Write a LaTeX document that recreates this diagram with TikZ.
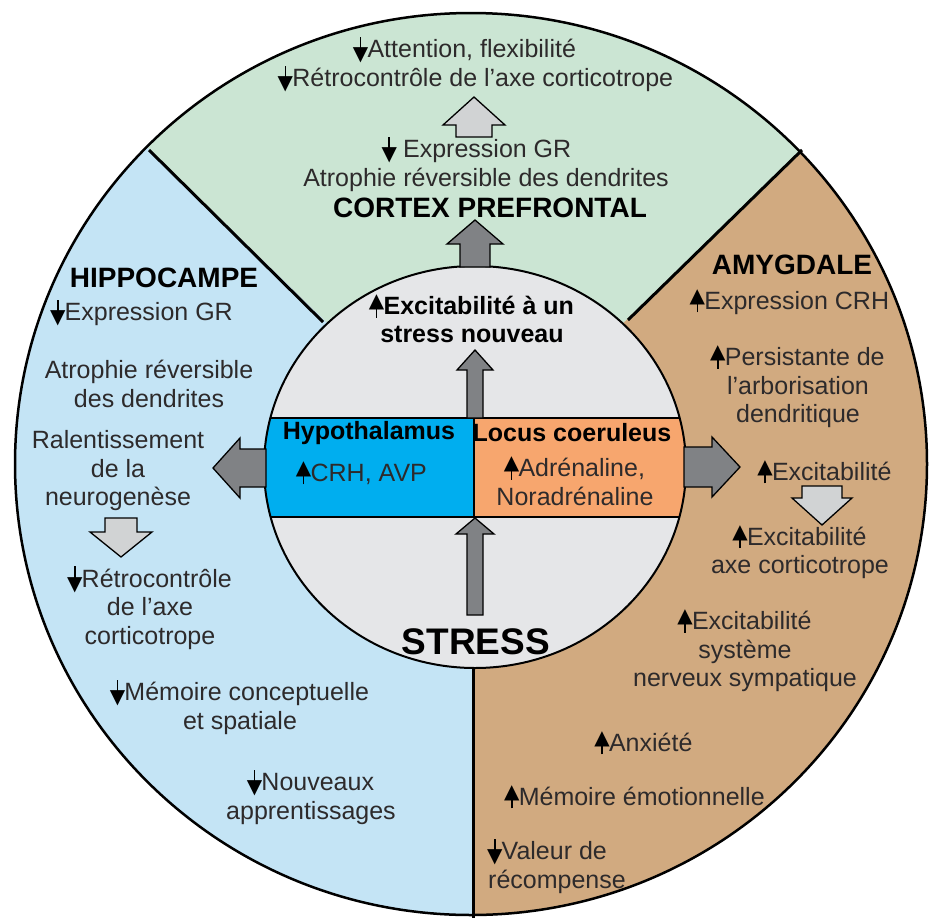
\documentclass[tikz,border=0pt]{standalone}
\usepackage{fontspec}
\setmainfont{Liberation Sans}
\newfontfamily\symfont{DejaVu Sans}
\usepackage{tikz}
\usetikzlibrary{positioning}

\definecolor{vert}{RGB}{203,229,211}
\definecolor{bleuclair}{RGB}{196,228,245}
\definecolor{beige}{RGB}{209,170,128}
\definecolor{gris}{RGB}{229,230,232}
\definecolor{hypobleu}{RGB}{0,174,239}
\definecolor{orangelc}{RGB}{247,166,110}
\definecolor{foncee}{RGB}{128,130,133}
\definecolor{claire}{RGB}{209,211,212}
\definecolor{texte}{RGB}{45,42,43}

\newcommand{\hausse}{{\color{black}\makebox[13pt][c]{\raisebox{-3pt}{\rule{1.7pt}{14pt}}}\hspace{-13pt}\makebox[13pt][c]{\raisebox{7pt}{\symfont\fontsize{20}{20}\selectfont ▲}}}\hspace{0.5pt}}
\newcommand{\baisse}{{\color{black}\makebox[13pt][c]{\raisebox{7pt}{\rule{1.7pt}{14pt}}}\hspace{-13pt}\makebox[13pt][c]{\raisebox{-3pt}{\symfont\fontsize{20}{20}\selectfont ▼}}}\hspace{0.5pt}}
\newcommand{\fleche}[7]{\draw[line width=1.3, fill=#1, shift={#2}, rotate=#3] (0,-#5) -- (#4,-#5) -- (#4,-#7) -- ({#4+#6},0) -- (#4,#7) -- (#4,#5) -- (0,#5) -- cycle;}

\tikzset{
  txt/.style={text=texte, align=center, inner sep=0pt, font=\fontsize{25}{28.5}\selectfont},
  titre/.style={text=black, inner sep=0pt, font=\fontsize{28}{32}\selectfont\bfseries},
  gras/.style={text=black, align=center, inner sep=0pt, font=\fontsize{25}{28}\selectfont\bfseries},
  trait/.style={line width=3}
}

\begin{document}
\begin{tikzpicture}[x=1pt,y=-1pt]
\useasboundingbox (0,0) rectangle (929,919);
\fill[white] (0,0) rectangle (929,919);

\fill[beige] (471,464) ellipse [x radius=456, y radius=451];
\begin{scope}
\clip (471,464) ellipse [x radius=456, y radius=451];
\fill[bleuclair] (475,467) -- (49,51) -- (-20,51) -- (-20,930) -- (473,930) -- (473,467) -- cycle;
\fill[vert] (475,467) -- (49,51) -- (49,-20) -- (900,-20) -- (900,54) -- cycle;
\end{scope}

\coordinate (ghaut) at (149,150);
\coordinate (gbas) at (323,322);
\coordinate (dhaut) at (802,150);
\coordinate (dbas) at (628,320);
\coordinate (cbas) at (473,660);
\coordinate (cfin) at (473,918);
\draw[trait] (gbas) -- (ghaut);
\draw[trait] (dbas) -- (dhaut);
\draw[trait] (cbas) -- (cfin);
\draw[line width=2.5] (471,464) ellipse [x radius=456, y radius=451];

\fill[gris] (475,467) ellipse [x radius=211, y radius=201];
\begin{scope}
\clip (475,467) ellipse [x radius=211, y radius=201];
\fill[hypobleu] (250,418) rectangle (474,517);
\fill[orangelc] (474,418) rectangle (700,517);
\draw[line width=2] (250,418) -- (700,418) (250,517) -- (700,517) (474,418) -- (474,517);
\end{scope}
\draw[line width=2] (475,467) ellipse [x radius=211, y radius=201];

\fleche{foncee}{(475,615)}{90}{81}{8}{16}{19}
\fleche{foncee}{(475,418)}{90}{48}{8}{20}{18}
\fleche{foncee}{(475,267)}{90}{23}{15}{24}{28}
\fleche{claire}{(474,137)}{90}{12}{18}{28}{31}
\fleche{foncee}{(266,468)}{180}{26}{19}{27}{30}
\fleche{foncee}{(684,467)}{0}{28}{20}{28}{30}
\fleche{claire}{(121,518)}{270}{14}{16}{25}{31}
\fleche{claire}{(822,486)}{270}{12}{20}{27}{30}

\node[txt] (attn) at (465,50) {\baisse Attention, flexibilité};
\node[txt] (retro1) at (476,79) {\baisse Rétrocontrôle de l’axe corticotrope};
\node[txt] (expgr1) at (477,150) {\baisse\ Expression GR};
\node[txt] (atro1) at (486,180) {Atrophie réversible des dendrites};
\node[titre] (cortex) at (490,208) {CORTEX PREFRONTAL};

\node[gras] (excit) at (472,319) {\hausse Excitabilité à un\\stress nouveau};
\node[gras] (hypo) at (369,433) {Hypothalamus};
\node[txt] (crh) at (362,473) {\hausse CRH, AVP};
\node[gras] (locus) at (572,433) {Locus coeruleus};
\node[txt] (adren) at (575,481) {\hausse Adrénaline,\\Noradrénaline};
\node[text=black, inner sep=0pt, font=\fontsize{37}{40}\selectfont\bfseries] (stress) at (476,642) {STRESS};

\node[titre] (hippo) at (164,278) {HIPPOCAMPE};
\node[txt] (expgr2) at (142,313) {\baisse Expression GR};
\node[txt] (atro2) at (149,384) {Atrophie réversible\\des dendrites};
\node[txt] (ralent) at (118,471) {Ralentissement\\de la\\neurogenèse};
\node[txt] (retro2) at (150,608) {\baisse Rétrocontrôle\\de l’axe\\corticotrope};
\node[txt] (memo1) at (240,707) {\baisse Mémoire conceptuelle\\et spatiale};
\node[txt] (nouv) at (311,797) {\baisse Nouveaux\\apprentissages};

\node[titre] (amyg) at (792,265) {AMYGDALE};
\node[txt] (crh2) at (790,302) {\hausse Expression CRH};
\node[txt] (persist) at (798,387) {\hausse Persistante de\\l’arborisation\\dendritique};
\node[txt] (excit2) at (825,472) {\hausse Excitabilité};
\node[txt] (excit3) at (800,552) {\hausse Excitabilité\\axe corticotrope};
\node[txt] (excit4) at (745,651) {\hausse Excitabilité\\système\\nerveux sympatique};
\node[txt] (anx) at (644,743) {\hausse Anxiété};
\node[txt] (memo2) at (635,797) {\hausse Mémoire émotionnelle};
\node[txt, align=left, anchor=west] (valeur) at (488,866) {\baisse Valeur de\\récompense};
\end{tikzpicture}
\end{document}
